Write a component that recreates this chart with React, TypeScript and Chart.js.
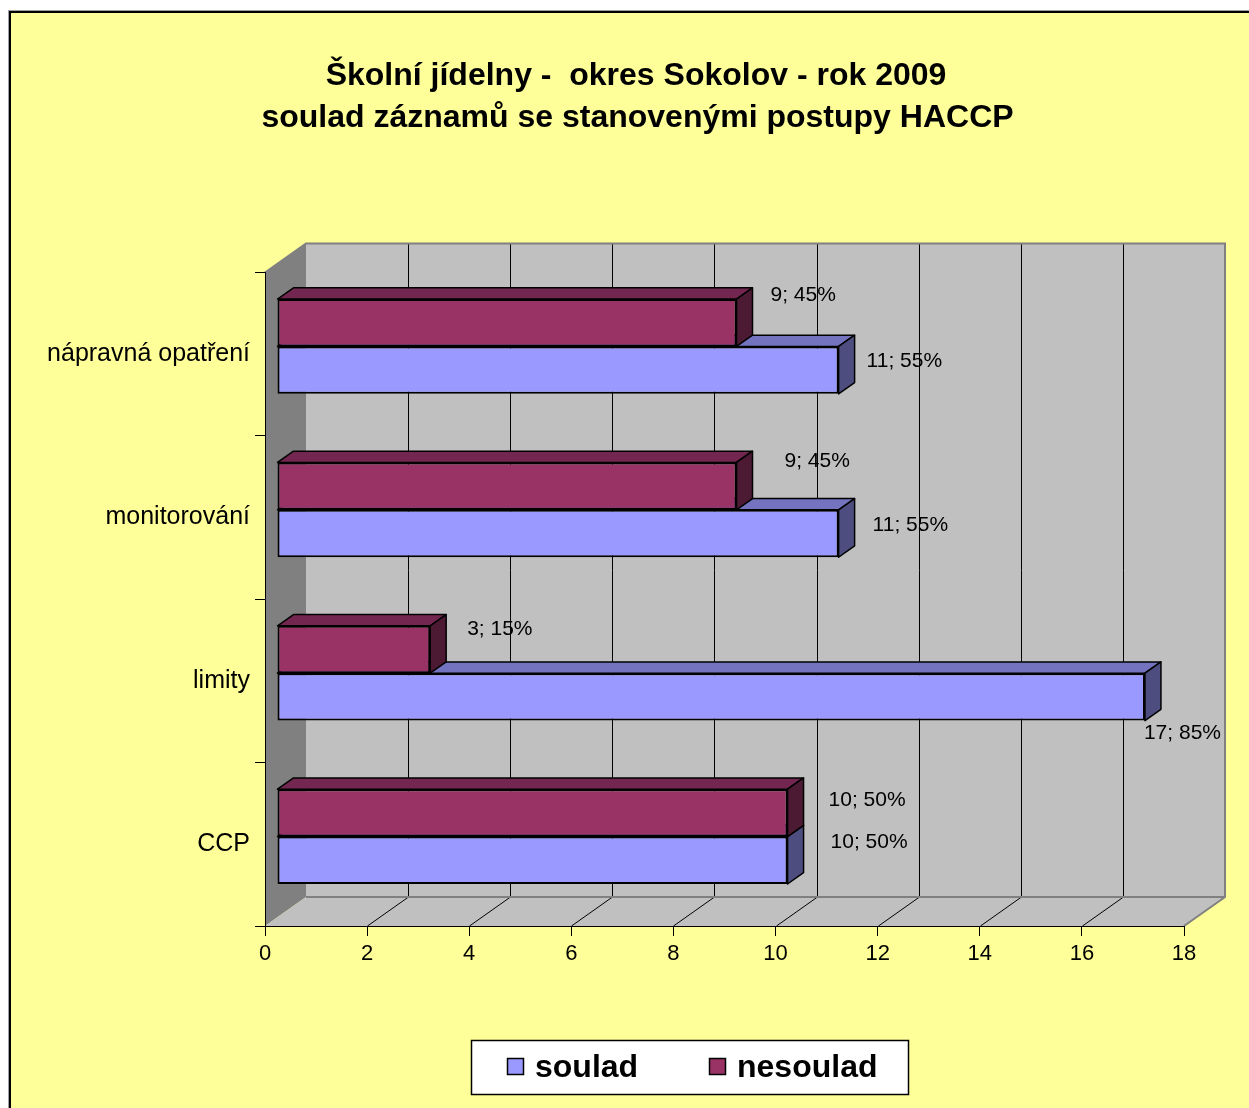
import React, { useEffect, useRef } from "react";
import { Chart, registerables } from "chart.js";

Chart.register(...registerables);

// ---------- data ----------
const categories = ["CCP", "limity", "monitorování", "nápravná opatření"];
const souladValues = [10, 17, 11, 11];
const nesouladValues = [10, 3, 9, 9];
const seriesNames = ["soulad", "nesoulad"];
const xMin = 0;
const xMax = 18;
const xStep = 2;
const titleLines = [
  "Školní jídelny -  okres Sokolov - rok 2009",
  "soulad záznamů se stanovenými postupy HACCP",
];

// ---------- styles ----------
const FRONT = ["#9999FF", "#993366"];
const TOP = ["#7373BF", "#732650"];
const SIDE = ["#4D4D80", "#4D1A33"];
const FONT = "Arial, 'Liberation Sans', Helvetica, sans-serif";

// plane depth (back wall offset) and bar offsets
const DX = 41;
const DY = -29;
const BX = 12;
const BY = -7.7;
const BDX = 16;
const BDY = -11.3;

// label nudges [dataset][category] : dx from bar end, dy from bar centre
const labelNudge = [
  [
    [43, -18],
    [-1, 36],
    [34, -8.5],
    [28, -9],
  ],
  [
    [41, -13],
    [37, -20.5],
    [48, -25],
    [34, -28],
  ],
];

function poly(ctx: CanvasRenderingContext2D, pts: number[][]) {
  ctx.beginPath();
  ctx.moveTo(pts[0][0], pts[0][1]);
  for (let i = 1; i < pts.length; i++) ctx.lineTo(pts[i][0], pts[i][1]);
  ctx.closePath();
}

const threeD = {
  id: "threeD",
  beforeDraw(chart: any) {
    const { ctx, chartArea: a, scales } = chart;
    const x = scales.x;
    ctx.save();
    // back wall
    ctx.fillStyle = "#C0C0C0";
    ctx.fillRect(a.left + DX, a.top + DY, a.right - a.left, a.bottom - a.top);
    // left wall
    poly(ctx, [
      [a.left, a.top],
      [a.left + DX, a.top + DY],
      [a.left + DX, a.bottom + DY],
      [a.left, a.bottom],
    ]);
    ctx.fillStyle = "#808080";
    ctx.fill();
    // floor
    poly(ctx, [
      [a.left, a.bottom],
      [a.left + DX, a.bottom + DY],
      [a.right + DX, a.bottom + DY],
      [a.right, a.bottom],
    ]);
    ctx.fillStyle = "#C0C0C0";
    ctx.fill();
    // grid lines on back wall and floor
    ctx.strokeStyle = "#000";
    ctx.lineWidth = 1;
    for (const t of x.ticks) {
      const v = t.value;
      if (v <= xMin || v >= xMax) continue;
      const px = Math.round(x.getPixelForValue(v)) + 0.5;
      ctx.beginPath();
      ctx.moveTo(px + DX, a.top + DY);
      ctx.lineTo(px + DX, a.bottom + DY);
      ctx.moveTo(px, a.bottom);
      ctx.lineTo(px + DX, a.bottom + DY);
      ctx.stroke();
    }
    // gray edges
    ctx.strokeStyle = "#808080";
    ctx.lineWidth = 2;
    ctx.beginPath();
    ctx.moveTo(a.left, a.top);
    ctx.lineTo(a.left + DX, a.top + DY);
    ctx.lineTo(a.right + DX, a.top + DY);
    ctx.lineTo(a.right + DX, a.bottom + DY);
    ctx.lineTo(a.right, a.bottom);
    ctx.moveTo(a.left + DX, a.bottom + DY);
    ctx.lineTo(a.right + DX, a.bottom + DY);
    ctx.stroke();
    ctx.restore();
  },
  beforeDatasetsDraw(chart: any) {
    const ctx = chart.ctx;
    ctx.save();
    ctx.translate(BX, BY);
    ctx.lineWidth = 1.5;
    ctx.strokeStyle = "#000";
    ctx.lineJoin = "round";
    for (let d = 0; d < chart.data.datasets.length; d++) {
      const meta = chart.getDatasetMeta(d);
      meta.data.forEach((bar: any) => {
        const p = bar.getProps(["x", "y", "base", "height"], true);
        const left = Math.min(p.x, p.base);
        const right = Math.max(p.x, p.base);
        const top = p.y - Math.abs(p.height) / 2;
        const bottom = p.y + Math.abs(p.height) / 2;
        poly(ctx, [
          [left, top],
          [left + BDX, top + BDY],
          [right + BDX, top + BDY],
          [right, top],
        ]);
        ctx.fillStyle = TOP[d];
        ctx.fill();
        ctx.stroke();
        poly(ctx, [
          [right, top],
          [right + BDX, top + BDY],
          [right + BDX, bottom + BDY],
          [right, bottom],
        ]);
        ctx.fillStyle = SIDE[d];
        ctx.fill();
        ctx.stroke();
      });
    }
  },
  afterDatasetsDraw(chart: any) {
    const ctx = chart.ctx;
    ctx.restore();
    ctx.save();
    ctx.font = `21px ${FONT}`;
    ctx.fillStyle = "#000";
    ctx.textAlign = "left";
    ctx.textBaseline = "middle";
    for (let d = 0; d < chart.data.datasets.length; d++) {
      const meta = chart.getDatasetMeta(d);
      const ds = chart.data.datasets[d];
      meta.data.forEach((bar: any, i: number) => {
        const p = bar.getProps(["x", "y"], true);
        const v = ds.data[i] as number;
        const total = souladValues[i] + nesouladValues[i];
        const pct = Math.round((v / total) * 100);
        const [ndx, ndy] = labelNudge[d][i];
        ctx.fillText(`${v}; ${pct}%`, p.x + BX + ndx, p.y + BY + ndy);
      });
    }
    ctx.restore();
  },
  afterDraw(chart: any) {
    const ctx = chart.ctx;
    ctx.save();
    // title
    ctx.fillStyle = "#000";
    ctx.font = `bold 32px ${FONT}`;
    ctx.textAlign = "center";
    ctx.textBaseline = "alphabetic";
    ctx.fillText(titleLines[0], 636, 85);
    ctx.fillText(titleLines[1], 637.5, 127);
    // legend
    ctx.fillStyle = "#FFFFFF";
    ctx.fillRect(471.5, 1040.5, 437, 54);
    ctx.strokeStyle = "#000";
    ctx.lineWidth = 1.5;
    ctx.strokeRect(471.5, 1040.5, 437, 54);
    const items = [
      { sx: 507, tx: 535 },
      { sx: 709, tx: 737 },
    ];
    ctx.font = `bold 32px ${FONT}`;
    ctx.textAlign = "left";
    items.forEach((it, k) => {
      ctx.fillStyle = FRONT[k];
      ctx.fillRect(it.sx + 0.5, 1058.5, 16, 16);
      ctx.lineWidth = 1.5;
      ctx.strokeStyle = "#000";
      ctx.strokeRect(it.sx + 0.5, 1058.5, 16, 16);
      ctx.fillStyle = "#000";
      ctx.fillText(seriesNames[k], it.tx, 1077);
    });
    ctx.restore();
  },
};

export default function App() {
  const ref = useRef<HTMLCanvasElement | null>(null);
  useEffect(() => {
    if (!ref.current) return;
    const chart = new Chart(ref.current, {
      type: "bar",
      data: {
        labels: categories,
        datasets: [
          {
            label: seriesNames[0],
            data: souladValues,
            backgroundColor: FRONT[0],
            borderColor: "#000",
            borderWidth: 2,
            borderSkipped: false,
            clip: false as any,
            order: 1,
          },
          {
            label: seriesNames[1],
            data: nesouladValues,
            backgroundColor: FRONT[1],
            borderColor: "#000",
            borderWidth: 2,
            borderSkipped: false,
            clip: false as any,
            order: 0,
          },
        ],
      },
      options: {
        indexAxis: "y",
        animation: false,
        responsive: false,
        devicePixelRatio: 1,
        events: [],
        datasets: {
          bar: { categoryPercentage: 0.58, barPercentage: 1 },
        },
        layout: { padding: { left: 25, right: 65, top: 272.5, bottom: 122 } },
        plugins: {
          legend: { display: false },
          title: { display: false },
          tooltip: { enabled: false },
        },
        scales: {
          x: {
            type: "linear",
            min: xMin,
            max: xMax,
            ticks: {
              stepSize: xStep,
              color: "#000",
              font: { family: FONT, size: 22 },
              padding: 5,
              autoSkip: false,
              maxRotation: 0,
            },
            grid: { drawOnChartArea: false, drawTicks: true, tickLength: 10, color: "#000" },
            border: { display: true, color: "#000", width: 1 },
            afterFit: (s: any) => {
              s.height = 60;
            },
          },
          y: {
            type: "category",
            reverse: true,
            ticks: {
              color: "#000",
              font: { family: FONT, size: 25 },
              padding: 5,
              autoSkip: false,
            },
            grid: { drawOnChartArea: false, drawTicks: true, tickLength: 10, color: "#000", offset: true },
            border: { display: true, color: "#000", width: 1 },
            afterFit: (s: any) => {
              s.width = 240;
            },
          },
        },
      },
      plugins: [threeD],
    });
    return () => chart.destroy();
  }, []);

  return (
    <div
      style={{
        position: "fixed",
        left: 0,
        top: 0,
        width: 1249,
        height: 1108,
        overflow: "hidden",
        background: "#FFFFFF",
      }}
    >
      <div
        style={{
          position: "absolute",
          left: 9,
          top: 11,
          width: 1300,
          height: 1200,
          background: "#FFFF99",
          border: "2px solid #000",
          outline: "1px solid #A0A0A0",
        }}
      />
      <canvas
        ref={ref}
        width={1249}
        height={1108}
        style={{ position: "absolute", left: 0, top: 0, width: 1249, height: 1108 }}
      />
    </div>
  );
}
